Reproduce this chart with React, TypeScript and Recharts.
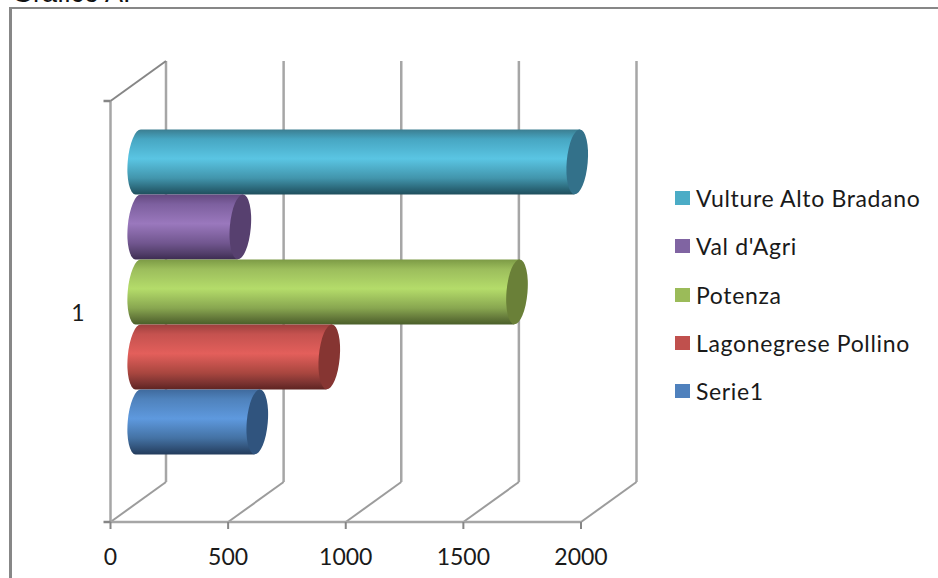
import { BarChart, Bar, XAxis, YAxis, Legend, CartesianGrid } from 'recharts'

const categories = ['1']
const seriesNames = ['Vulture Alto Bradano', "Val d'Agri", 'Potenza', 'Lagonegrese Pollino', 'Serie1']
const seriesValues = [1866, 434, 1610, 812, 506]
const xTicks = [0, 500, 1000, 1500, 2000]

// cylinder shades from top edge to bottom edge, plus the end cap and the legend swatch
const seriesColors = [
  { id: 'teal', top: '#3b7d90', upper: '#47a6c2', high: '#5ac5e3', low: '#4295ac', lower: '#2c6a7c', bottom: '#1f4f5d', cap: '#33718a', swatch: '#4bacc6' },
  { id: 'purple', top: '#63487f', upper: '#7d609f', high: '#9a78bd', low: '#71568f', lower: '#54406c', bottom: '#3d2c52', cap: '#57406f', swatch: '#8064a2' },
  { id: 'green', top: '#7c9a45', upper: '#9cbd5c', high: '#b4dc6a', low: '#88a650', lower: '#64793a', bottom: '#4a5f2a', cap: '#6a8038', swatch: '#9bbb59' },
  { id: 'red', top: '#9c3f3d', upper: '#c5524f', high: '#e35f5b', low: '#a8463f', lower: '#7c3331', bottom: '#5e2422', cap: '#863532', swatch: '#c0504d' },
  { id: 'blue', top: '#3f6a9d', upper: '#4f82bc', high: '#5e99de', low: '#4472a4', lower: '#315279', bottom: '#233c5c', cap: '#30547e', swatch: '#4f81bd' },
]

const chartData = categories.map((name) => {
  const row: Record<string, string | number> = { name }
  seriesNames.forEach((s, i) => {
    row[s] = seriesValues[i]
  })
  return row
})

const WIDTH = 938
const HEIGHT = 578
const PLOT_LEFT = 110.5
const PLOT_TOP = 101
const PLOT_BOTTOM = 522
// oblique offset of the back wall, and of the bars standing mid-depth
const DEPTH_X = 55.5
const DEPTH_Y = 40
const LINE = '#a6a6a6'
const TICK = '#868686'
const TEXT = '#1a1a1a'
const FONT = 'Lato, sans-serif'

// back wall line and floor diagonal for one value tick
function WallLine({ x1 }: any) {
  const bx = x1 + DEPTH_X
  const by = PLOT_BOTTOM - DEPTH_Y
  return (
    <g key={x1}>
      <line x1={bx} y1={PLOT_TOP - DEPTH_Y} x2={bx} y2={by} stroke={LINE} strokeWidth={2.5} />
      <line x1={x1} y1={PLOT_BOTTOM} x2={bx} y2={by} stroke="#9c9c9c" strokeWidth={2} />
      {x1 < PLOT_LEFT + 1 && (
        <line x1={x1} y1={PLOT_TOP} x2={bx} y2={PLOT_TOP - DEPTH_Y} stroke={TICK} strokeWidth={2} />
      )}
    </g>
  )
}

function XTick({ x, payload }: any) {
  return (
    <g>
      <line x1={x} y1={PLOT_BOTTOM} x2={x} y2={PLOT_BOTTOM + 7} stroke={TICK} strokeWidth={2} />
      <text x={x} y={565} textAnchor="middle" fontFamily={FONT} fontSize={23} fill={TEXT}>
        {payload.value}
      </text>
    </g>
  )
}

function YTick({ y, payload }: any) {
  return (
    <g>
      <line x1={PLOT_LEFT - 7} y1={PLOT_TOP} x2={PLOT_LEFT} y2={PLOT_TOP} stroke={TICK} strokeWidth={2.5} />
      <line x1={PLOT_LEFT - 7} y1={PLOT_BOTTOM} x2={PLOT_LEFT} y2={PLOT_BOTTOM} stroke={TICK} strokeWidth={2.5} />
      <text x={78} y={y + 9} textAnchor="middle" fontFamily={FONT} fontSize={23} fill={TEXT}>
        {payload.value}
      </text>
    </g>
  )
}

// horizontal cylinder pushed halfway into the chart depth, its ends slightly tilted
function Cylinder({ x, y, width, height, colorIndex }: any) {
  const c = seriesColors[colorIndex]
  const left = x + DEPTH_X / 2
  const right = left + width
  const top = y - DEPTH_Y / 2
  const bottom = top + height
  const ry = height / 2
  const rx = 10.5
  const tilt = 5
  const lean = 2.8
  const d = `M${left + lean},${top} A${rx},${ry} ${tilt} 0 0 ${left - lean},${bottom} L${right - lean},${bottom} L${right + lean},${top} Z`
  return (
    <g>
      <path d={d} fill={`url(#cyl-${c.id})`} />
      <ellipse
        cx={right}
        cy={top + ry}
        rx={rx}
        ry={ry}
        fill={c.cap}
        transform={`rotate(${tilt} ${right} ${top + ry})`}
      />
    </g>
  )
}

function LegendList() {
  return (
    <div style={{ fontFamily: FONT, fontSize: 23, letterSpacing: 0.65, color: TEXT }}>
      {seriesNames.map((s, i) => (
        <div key={s} style={{ display: 'flex', alignItems: 'center', height: 48.3, whiteSpace: 'nowrap' }}>
          <span style={{ width: 15, height: 14, background: seriesColors[i].swatch, marginRight: 6 }} />
          {s}
        </div>
      ))}
    </div>
  )
}

export default function App() {
  return (
    <div style={{ position: 'absolute', left: 0, top: 0, width: WIDTH, height: HEIGHT, overflow: 'hidden', background: '#fff' }}>
      <div style={{ position: 'absolute', left: 12, top: -22, fontFamily: 'Liberation Sans, sans-serif', fontSize: 27, color: '#111', whiteSpace: 'nowrap' }}>
        Grafico A.
      </div>
      <div style={{ position: 'absolute', left: 9, top: 7, width: WIDTH, height: HEIGHT, borderLeft: '3px solid #878787', borderTop: '2px solid #878787' }} />
      <div style={{ position: 'absolute', left: 0, top: 0 }}>
        <BarChart
          width={WIDTH}
          height={HEIGHT}
          data={chartData}
          layout="vertical"
          barCategoryGap="11.5%"
          barGap={0}
          margin={{ top: PLOT_TOP, right: 357, bottom: 0, left: 0 }}
        >
          <defs>
            {seriesColors.map((c) => (
              <linearGradient key={c.id} id={`cyl-${c.id}`} x1="0" y1="0" x2="0" y2="1">
                <stop offset="0%" stopColor={c.top} />
                <stop offset="15%" stopColor={c.upper} />
                <stop offset="45%" stopColor={c.high} />
                <stop offset="75%" stopColor={c.low} />
                <stop offset="90%" stopColor={c.lower} />
                <stop offset="100%" stopColor={c.bottom} />
              </linearGradient>
            ))}
          </defs>
          <CartesianGrid
            horizontal={false}
            verticalValues={xTicks}
            vertical={(props: any) => <WallLine key={props.x1} {...props} />}
          />
          <XAxis
            type="number"
            domain={[0, 2000]}
            ticks={xTicks}
            height={56}
            tickLine={false}
            axisLine={{ stroke: LINE, strokeWidth: 2.5 }}
            tick={<XTick />}
            interval={0}
          />
          <YAxis
            type="category"
            dataKey="name"
            width={PLOT_LEFT}
            tickLine={false}
            axisLine={{ stroke: LINE, strokeWidth: 2.5 }}
            tick={<YTick />}
          />
          <Legend
            layout="vertical"
            align="center"
            verticalAlign="middle"
            content={<LegendList />}
            wrapperStyle={{ left: 675, top: 174, width: 263, height: 242 }}
          />
          {seriesNames.map((s, i) => (
            <Bar
              key={s}
              dataKey={s}
              isAnimationActive={false}
              shape={(props: any) => <Cylinder {...props} colorIndex={i} />}
            />
          ))}
        </BarChart>
      </div>
    </div>
  )
}
